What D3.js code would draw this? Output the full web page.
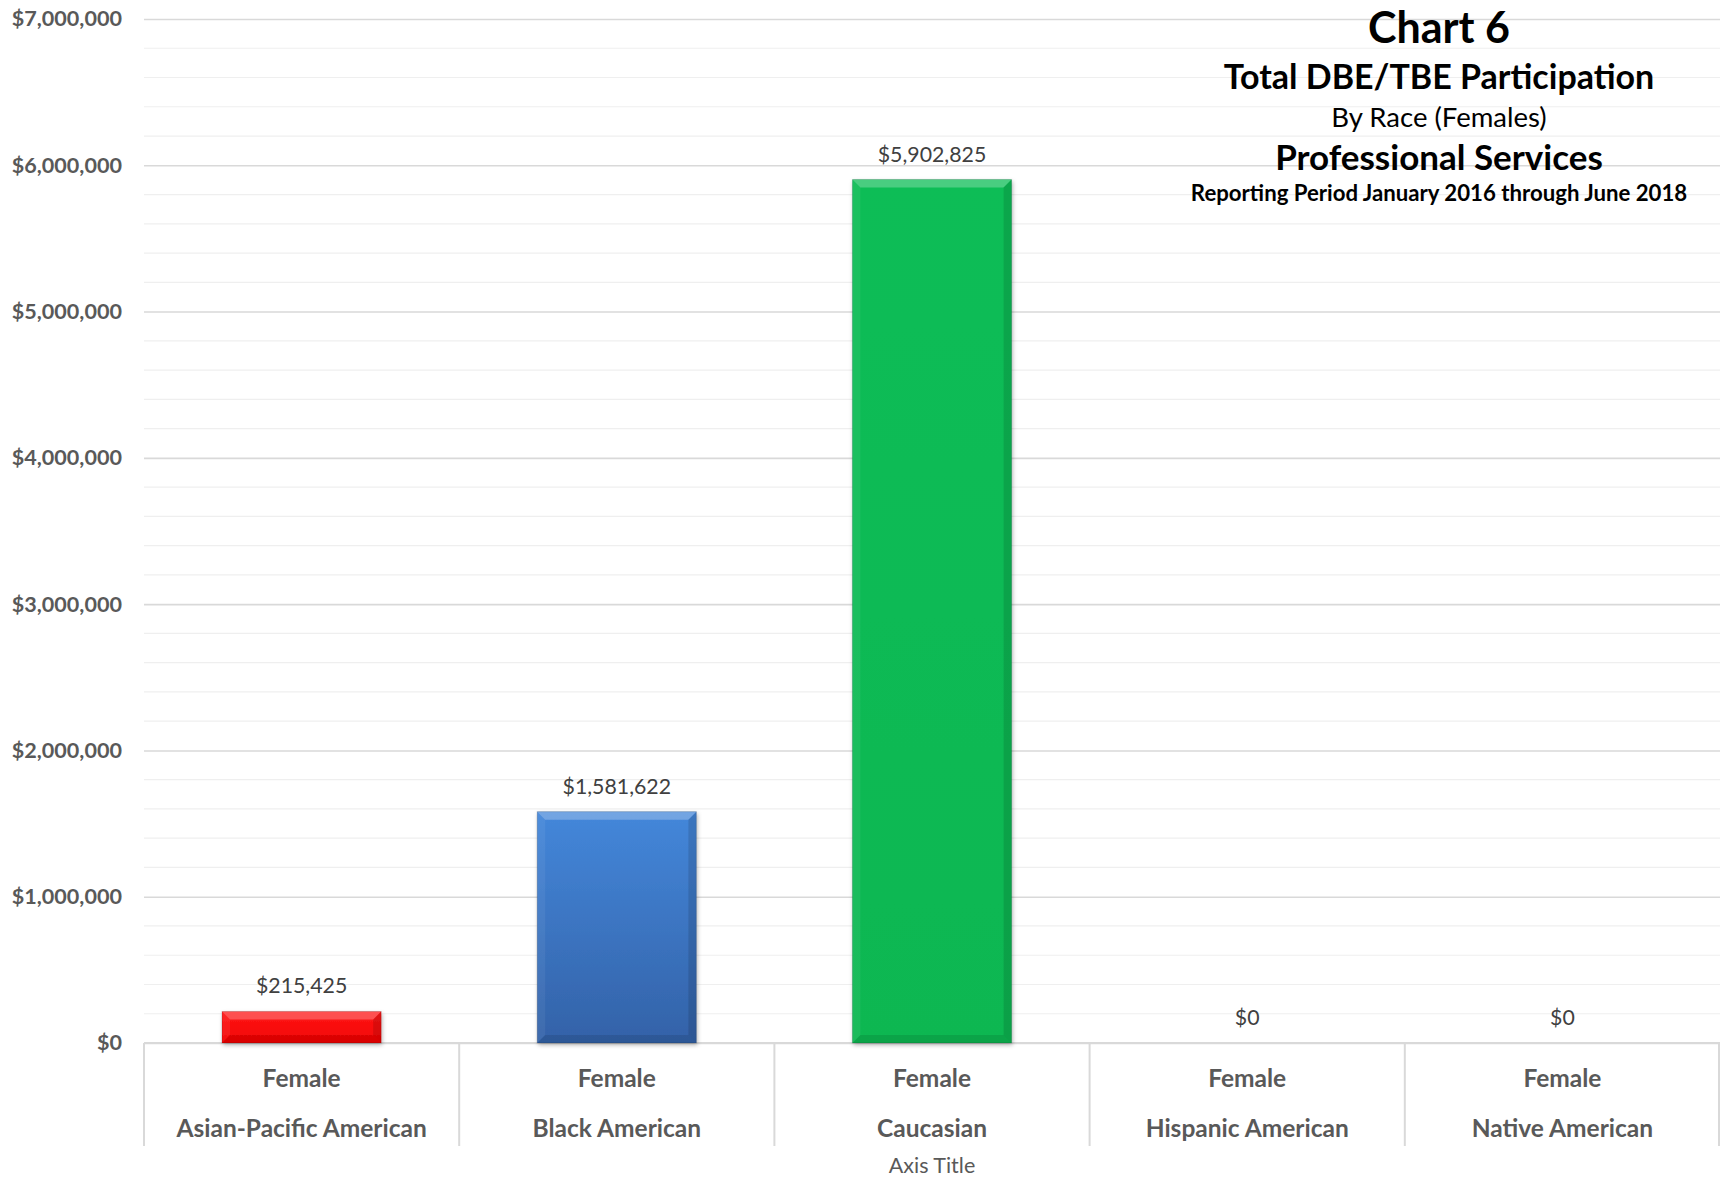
<!DOCTYPE html>
<html>
<head>
<meta charset="utf-8">
<script src="https://cdn.jsdelivr.net/npm/d3@7"></script>
<style>
  body { margin: 0; background: #fff; }
  svg { display: block; font-family: Lato, "Open Sans", sans-serif; }
</style>
</head>
<body>
<div id="chart"></div>
<script>
// data
var groups = ["Female", "Female", "Female", "Female", "Female"];
var races = ["Asian-Pacific American", "Black American", "Caucasian", "Hispanic American", "Native American"];
var amounts = [215425, 1581622, 5902825, 0, 0];
var barColors = [["#ff1a1a", "#f20000"], ["#4487da", "#3362a8"], ["#0abd57", "#07b751"], ["#aaaaaa", "#999999"], ["#aaaaaa", "#999999"]];
var yTicks = [0, 1000000, 2000000, 3000000, 4000000, 5000000, 6000000, 7000000];
var titleLines = ["Chart 6", "Total DBE/TBE Participation", "By Race (Females)", "Professional Services", "Reporting Period January 2016 through June 2018"];

var width = 1721, height = 1181;
var margin = { top: 19, right: 1, bottom: 138, left: 144 };
var plotW = width - margin.left - margin.right,
    plotH = height - margin.top - margin.bottom;

var svg = d3.select("#chart").append("svg")
    .attr("width", width)
    .attr("height", height);

var defs = svg.append("defs");
defs.append("filter").attr("id", "shadow")
    .attr("x", "-10%").attr("y", "-10%").attr("width", "120%").attr("height", "130%")
    .append("feDropShadow")
    .attr("dx", 1).attr("dy", 2).attr("stdDeviation", 2)
    .attr("flood-color", "#000").attr("flood-opacity", 0.3);

barColors.forEach(function (c, i) {
    var g = defs.append("linearGradient").attr("id", "grad" + i)
        .attr("x1", 0).attr("y1", 0).attr("x2", 0).attr("y2", 1);
    g.append("stop").attr("offset", "0%").attr("stop-color", c[0]);
    g.append("stop").attr("offset", "100%").attr("stop-color", c[1]);
});

var g = svg.append("g").attr("transform", "translate(" + margin.left + "," + margin.top + ")");

var y = d3.scaleLinear().domain([0, 7000000]).range([plotH, 0]);
var x = d3.scaleBand().domain(d3.range(races.length)).range([0, plotW]).padding(0);
var xBar = d3.scaleBand().domain(d3.range(races.length)).range([0, plotW])
    .paddingInner(0.495).paddingOuter(0.2475);

// minor gridlines
g.append("g").selectAll("line")
    .data(d3.range(0, 7000001, 200000).filter(function (d) { return d % 1000000 !== 0; }))
    .enter().append("line")
    .attr("x1", 0).attr("x2", plotW)
    .attr("y1", function (d) { return y(d); })
    .attr("y2", function (d) { return y(d); })
    .attr("stroke", "#efefef").attr("stroke-width", 1.2);

// major gridlines + y axis labels
var yAxis = d3.axisLeft(y).tickValues(yTicks)
    .tickSize(-plotW)
    .tickPadding(22)
    .tickFormat(function (d) { return "$" + d3.format(",")(d); });
g.append("g").call(yAxis)
    .call(function (a) {
        a.select(".domain").remove();
        a.selectAll(".tick line").attr("stroke", "#d9d9d9").attr("stroke-width", 1.6);
        a.selectAll(".tick text")
            .attr("fill", "#595959")
            .style("font-size", "21.6px")
            .style("font-weight", "bold")
            .style("font-family", "Lato, sans-serif");
    });

// category axis box
var catH = 103;
g.append("line")
    .attr("x1", 0).attr("x2", plotW)
    .attr("y1", plotH).attr("y2", plotH)
    .attr("stroke", "#d9d9d9").attr("stroke-width", 2);
g.append("g").selectAll("line")
    .data(d3.range(races.length + 1))
    .enter().append("line")
    .attr("x1", function (i) { return i < races.length ? x(i) : x(i - 1) + x.bandwidth() - 1; })
    .attr("x2", function (i) { return i < races.length ? x(i) : x(i - 1) + x.bandwidth() - 1; })
    .attr("y1", plotH).attr("y2", plotH + catH)
    .attr("stroke", "#d9d9d9").attr("stroke-width", 2);

var cat = g.append("g").selectAll("g")
    .data(races)
    .enter().append("g")
    .attr("transform", function (d, i) { return "translate(" + (x(i) + x.bandwidth() / 2) + "," + plotH + ")"; });
cat.append("text")
    .attr("y", 44)
    .attr("text-anchor", "middle")
    .attr("fill", "#595959")
    .style("font-size", "24.5px").style("font-weight", "bold")
    .text(function (d, i) { return groups[i]; });
cat.append("text")
    .attr("y", 94)
    .attr("text-anchor", "middle")
    .attr("fill", "#595959")
    .style("font-size", "24.5px").style("font-weight", "bold")
    .text(function (d) { return d; });

g.append("text")
    .attr("x", plotW / 2)
    .attr("y", plotH + 130)
    .attr("text-anchor", "middle")
    .attr("fill", "#595959")
    .style("font-size", "21.5px")
    .text("Axis Title");

// bars with bevel
var bev = 8;
var bars = g.append("g").selectAll("g")
    .data(amounts)
    .enter().append("g")
    .filter(function (d) { return d > 0; });

bars.append("rect")
    .attr("x", function (d) { return xBar(amounts.indexOf(d)); })
    .attr("y", function (d) { return y(d); })
    .attr("width", xBar.bandwidth())
    .attr("height", function (d) { return plotH - y(d); })
    .attr("fill", function (d) { return "url(#grad" + amounts.indexOf(d) + ")"; })
    .attr("filter", "url(#shadow)");

function bevelPts(d, side) {
    var i = amounts.indexOf(d);
    var x0 = xBar(i), x1 = x0 + xBar.bandwidth(), y0 = y(d), y1 = plotH;
    var b = Math.min(bev, (y1 - y0) / 3);
    var p;
    if (side === "top") p = [[x0, y0], [x1, y0], [x1 - b, y0 + b], [x0 + b, y0 + b]];
    if (side === "left") p = [[x0, y0], [x0 + b, y0 + b], [x0 + b, y1 - b], [x0, y1]];
    if (side === "right") p = [[x1, y0], [x1 - b, y0 + b], [x1 - b, y1 - b], [x1, y1]];
    if (side === "bottom") p = [[x0, y1], [x0 + b, y1 - b], [x1 - b, y1 - b], [x1, y1]];
    return p.map(function (q) { return q.join(","); }).join(" ");
}
[["top", "#fff", 0.25], ["left", "#fff", 0.06], ["right", "#000", 0.12], ["bottom", "#000", 0.1]].forEach(function (s) {
    bars.append("polygon")
        .attr("points", function (d) { return bevelPts(d, s[0]); })
        .attr("fill", s[1]).attr("fill-opacity", s[2]);
});
bars.append("rect")
    .attr("x", function (d) { return xBar(amounts.indexOf(d)); })
    .attr("y", function (d) { return y(d); })
    .attr("width", xBar.bandwidth())
    .attr("height", function (d) { return plotH - y(d); })
    .attr("fill", "none")
    .attr("stroke", "#000").attr("stroke-opacity", 0.15).attr("stroke-width", 1);

// value labels
g.append("g").selectAll("text")
    .data(amounts)
    .enter().append("text")
    .attr("x", function (d, i) { return xBar(i) + xBar.bandwidth() / 2; })
    .attr("y", function (d) { return y(d) - 18; })
    .attr("text-anchor", "middle")
    .attr("fill", "#404040")
    .style("font-size", "21.3px")
    .text(function (d) { return "$" + d3.format(",")(d); });

// title block
var titleX = 1439;
var titleY = [43, 89, 127, 170, 201];
var titleSize = [43, 34, 27.5, 35, 22.2];
var titleBold = [true, true, false, true, true];
svg.append("g").selectAll("text")
    .data(titleLines)
    .enter().append("text")
    .attr("x", titleX)
    .attr("y", function (d, i) { return titleY[i]; })
    .attr("text-anchor", "middle")
    .attr("fill", "#000")
    .style("font-size", function (d, i) { return titleSize[i] + "px"; })
    .style("font-weight", function (d, i) { return titleBold[i] ? "bold" : "normal"; })
    .text(function (d) { return d; });
</script>
</body>
</html>
